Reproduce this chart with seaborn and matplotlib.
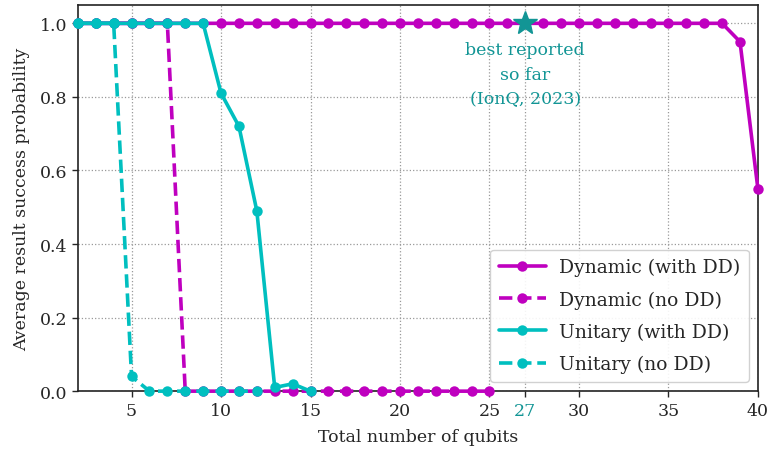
import numpy as np
import pandas as pd
import matplotlib
matplotlib.use("Agg")
import matplotlib.pyplot as plt
import seaborn as sns

# ---- data ----
dyn_dd_x = list(range(2, 41))
dyn_dd_y = [1.0] * 37 + [0.95, 0.55]

dyn_nodd_x = list(range(2, 26))
dyn_nodd_y = [1.0] * 6 + [0.0] * 18

uni_dd_x = list(range(2, 16))
uni_dd_y = [1.0] * 8 + [0.81, 0.72, 0.49, 0.01, 0.02, 0.0]

uni_nodd_x = list(range(2, 13))
uni_nodd_y = [1.0, 1.0, 1.0, 0.04, 0.0, 0.0, 0.0, 0.0, 0.0, 0.0, 0.0]

series_labels = ["Dynamic (with DD)", "Dynamic (no DD)", "Unitary (with DD)", "Unitary (no DD)"]
xticks = [5, 10, 15, 20, 25, 27, 30, 35, 40]
yticks = [0.0, 0.2, 0.4, 0.6, 0.8, 1.0]
best_x, best_y = 27, 1.0
best_text = "best reported\nso far\n(IonQ, 2023)"

# ---- style ----
sns.set_style("ticks")
plt.rcParams["font.family"] = ["DejaVu Serif"]
fs = 12.5

magenta = "#BF00BF"
cyan = "#00BFBF"
teal = "#129595"

fig = plt.figure(figsize=(7.71, 4.56), dpi=100)
ax = fig.add_axes([0.101, 0.140, 0.882, 0.847])

specs = [
    (dyn_dd_x, dyn_dd_y, series_labels[0], magenta, "-"),
    (dyn_nodd_x, dyn_nodd_y, series_labels[1], magenta, "--"),
    (uni_dd_x, uni_dd_y, series_labels[2], cyan, "-"),
    (uni_nodd_x, uni_nodd_y, series_labels[3], cyan, "--"),
]
for xs, ys, lab, col, ls in specs:
    df = pd.DataFrame({"x": xs, "y": ys})
    sns.lineplot(data=df, x="x", y="y", ax=ax, color=col, linestyle=ls,
                 marker="o", markersize=7.5, markeredgewidth=0, linewidth=2.6,
                 label=lab, clip_on=False, zorder=3)

ax.plot([best_x], [best_y], marker="*", markersize=18, color=teal,
        linestyle="none", zorder=5, clip_on=False)
ax.text(best_x, 0.862, best_text, color=teal, ha="center", va="center",
        fontsize=fs, linespacing=1.6)

ax.set_xlim(2, 40)
ax.set_ylim(0, 1.05)
ax.set_xticks(xticks)
ax.set_xticklabels([str(t) for t in xticks])
ax.set_yticks(yticks)
ax.set_yticklabels([f"{t:.1f}" for t in yticks])
ax.tick_params(labelsize=fs, direction="out", length=4, width=1)
for lbl, t in zip(ax.get_xticklabels(), xticks):
    if t == 27:
        lbl.set_color(teal)
for tk, t in zip(ax.xaxis.get_major_ticks(), xticks):
    if t == 27:
        tk.tick1line.set_color(teal)

ax.grid(True, linestyle=":", color="#999999", linewidth=0.9)
ax.set_axisbelow(True)
for s in ax.spines.values():
    s.set_visible(True)
    s.set_linewidth(1.2)
    s.set_color("#222222")

ax.set_xlabel("Total number of qubits", fontsize=fs, labelpad=7)
ax.set_ylabel("Average result success probability", fontsize=fs, labelpad=7)

leg = ax.legend(loc="lower right", fontsize=13.5, frameon=True, fancybox=True,
                framealpha=0.9, edgecolor="#cccccc", handlelength=2.5,
                handletextpad=0.7, borderaxespad=0.5, labelspacing=0.75,
                borderpad=0.45)

fig.savefig("out.png", dpi=100)
